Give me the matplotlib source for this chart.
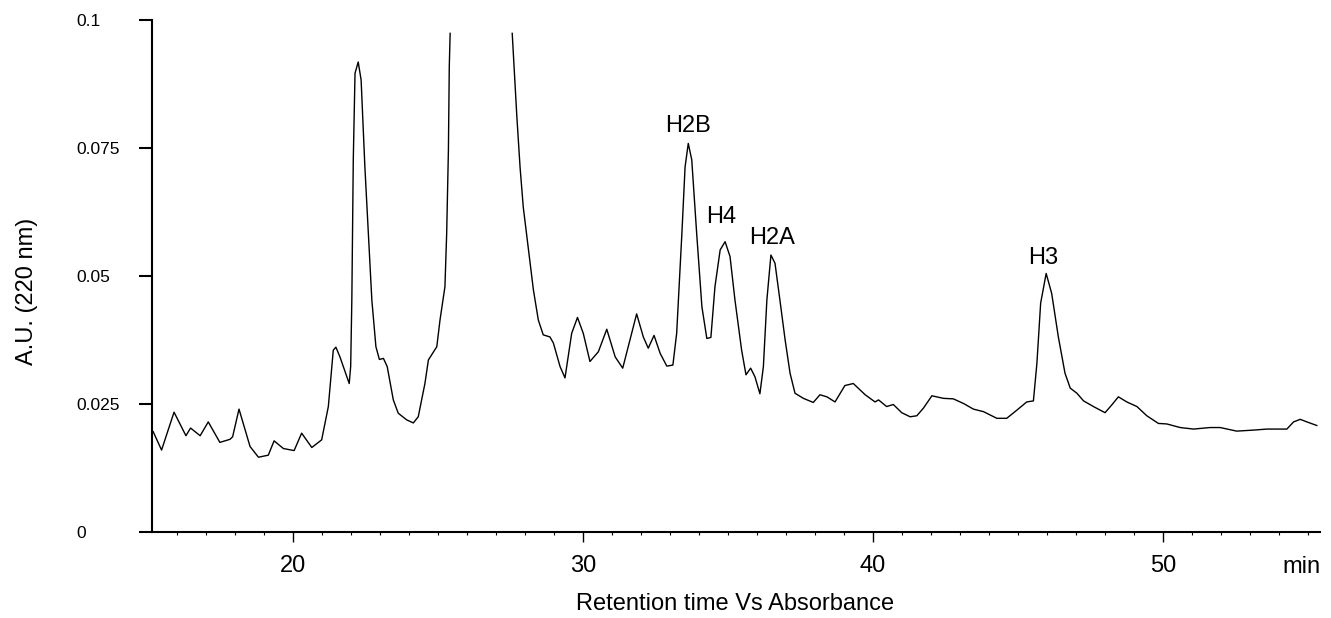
import numpy as np
import matplotlib.pyplot as plt

plt.rcParams['font.family'] = ['Liberation Sans', 'DejaVu Sans']

# retention time (min) and absorbance (A.U.)
# NaN marks the off-scale part of the big peak
time = [15.18, 15.47, 15.90, 16.31, 16.47, 16.80, 17.08, 17.48, 17.83, 17.92,
        18.14, 18.52, 18.81, 19.15, 19.35, 19.67, 20.04, 20.30, 20.65, 20.99,
        21.22, 21.39, 21.48, 21.62, 21.94, 21.99, 22.03, 22.06, 22.08, 22.14,
        22.25, 22.35, 22.48, 22.60, 22.72, 22.86, 22.98, 23.12, 23.25, 23.46,
        23.63, 23.92, 24.15, 24.32, 24.55, 24.67, 24.96, 25.07, 25.24, 25.30,
        25.36, 25.39, 25.42, 26.5, 27.56, 27.72, 27.83, 27.94, 28.12, 28.29,
        28.46, 28.63, 28.86, 28.98, 29.21, 29.38, 29.61, 29.81, 30.01, 30.24,
        30.53, 30.82, 31.11, 31.37, 31.62, 31.85, 32.08, 32.25, 32.45, 32.66,
        32.89, 33.10, 33.23, 33.41, 33.52, 33.63, 33.75, 33.92, 34.10, 34.27,
        34.41, 34.55, 34.73, 34.90, 35.07, 35.24, 35.47, 35.62, 35.78, 35.93,
        36.10, 36.22, 36.34, 36.48, 36.62, 36.79, 36.97, 37.14, 37.31, 37.60,
        37.94, 38.17, 38.41, 38.69, 39.03, 39.32, 39.73, 40.07, 40.19, 40.47,
        40.70, 40.99, 41.28, 41.51, 41.74, 42.03, 42.43, 42.77, 43.12, 43.46,
        43.81, 44.27, 44.61, 44.96, 45.30, 45.53, 45.65, 45.78, 45.97, 46.16,
        46.39, 46.62, 46.80, 47.03, 47.26, 47.60, 48.00, 48.23, 48.46, 48.75,
        49.10, 49.44, 49.84, 50.13, 50.59, 51.05, 51.62, 51.97, 52.54, 53.12,
        53.58, 54.27, 54.50, 54.73, 54.96, 55.30]
absorb = [0.0196, 0.0160, 0.0234, 0.0188, 0.0203, 0.0188, 0.0215, 0.0175, 0.0181, 0.0186,
          0.0240, 0.0167, 0.0146, 0.0150, 0.0178, 0.0163, 0.0159, 0.0193, 0.0165, 0.0180,
          0.0245, 0.0355, 0.0361, 0.0342, 0.0290, 0.0323, 0.0453, 0.0609, 0.0727, 0.0896,
          0.0918, 0.0883, 0.0713, 0.0583, 0.0453, 0.0362, 0.0337, 0.0339, 0.0323, 0.0258,
          0.0232, 0.0219, 0.0213, 0.0225, 0.0290, 0.0336, 0.0362, 0.0414, 0.0479, 0.0583,
          0.0746, 0.0909, 0.0974, np.nan, 0.0974, 0.0811, 0.0713, 0.0635, 0.0551, 0.0473,
          0.0414, 0.0385, 0.0381, 0.0369, 0.0323, 0.0301, 0.0388, 0.0419, 0.0388, 0.0333,
          0.0352, 0.0396, 0.0342, 0.0320, 0.0375, 0.0426, 0.0381, 0.0359, 0.0384, 0.0349,
          0.0324, 0.0326, 0.0388, 0.0583, 0.0713, 0.0759, 0.0727, 0.0583, 0.0440, 0.0378,
          0.0380, 0.0479, 0.0551, 0.0567, 0.0538, 0.0453, 0.0355, 0.0307, 0.0320, 0.0303,
          0.0270, 0.0323, 0.0453, 0.0541, 0.0525, 0.0453, 0.0375, 0.0310, 0.0271, 0.0261,
          0.0253, 0.0268, 0.0264, 0.0254, 0.0286, 0.0290, 0.0268, 0.0254, 0.0258, 0.0245,
          0.0249, 0.0233, 0.0225, 0.0227, 0.0242, 0.0266, 0.0261, 0.0260, 0.0251, 0.0240,
          0.0235, 0.0222, 0.0222, 0.0238, 0.0254, 0.0256, 0.0329, 0.0447, 0.0505, 0.0466,
          0.0381, 0.0310, 0.0281, 0.0271, 0.0256, 0.0245, 0.0233, 0.0248, 0.0264, 0.0254,
          0.0245, 0.0227, 0.0212, 0.0211, 0.0204, 0.0201, 0.0204, 0.0204, 0.0197, 0.0199,
          0.0201, 0.0201, 0.0215, 0.0220, 0.0215, 0.0208]

# peak labels (baseline position)
peak_names = ['H2B', 'H4', 'H2A', 'H3']
peak_x = [33.62, 34.78, 36.52, 45.86]
peak_y = [0.0781, 0.0603, 0.0563, 0.0524]

y_ticks = [0, 0.025, 0.05, 0.075, 0.1]
y_tick_labels = ['0', '0.025', '0.05', '0.075', '0.1']
x_ticks = [20, 30, 40, 50]

fig = plt.figure(figsize=(13.31, 6.18), dpi=100)
ax = fig.add_axes([0.1142, 0.1392, 0.8775, 0.8284])

ax.plot(time, absorb, color='black', lw=1.0)

for name, px, py in zip(peak_names, peak_x, peak_y):
    ax.text(px, py, name, ha='center', va='baseline', fontsize=17)

ax.set_xlim(15.14, 55.41)
ax.set_ylim(0, 0.1)

ax.spines['top'].set_visible(False)
ax.spines['right'].set_visible(False)
ax.spines['left'].set_linewidth(1.5)
ax.spines['bottom'].set_linewidth(1.5)

ax.set_xticks(x_ticks)
ax.set_xticks(np.arange(16, 56, 1), minor=True)
ax.tick_params(axis='x', which='major', length=7.5, width=1, labelsize=17, pad=9)
ax.tick_params(axis='x', which='minor', length=2.5, width=0.8)

ax.set_yticks(y_ticks)
ax.set_yticklabels(y_tick_labels)
ax.tick_params(axis='y', length=9.5, width=1.5, labelsize=12.5, pad=45)
for lab in ax.get_yticklabels():
    lab.set_ha('left')

ax.annotate('min', xy=(54.78, 0), xycoords=('data', 'axes fraction'),
            xytext=(0, -29.5), textcoords='offset points',
            ha='center', va='baseline', fontsize=17)

ax.set_xlabel('Retention time Vs Absorbance', fontsize=17)
ax.xaxis.label.set_va('baseline')
ax.xaxis.set_label_coords(0.499, -0.1523)
ax.set_ylabel('A.U. (220 nm)', fontsize=17)
ax.yaxis.label.set_va('center')
ax.yaxis.set_label_coords(-0.107, 0.469)

plt.savefig('out.png', dpi=100)
